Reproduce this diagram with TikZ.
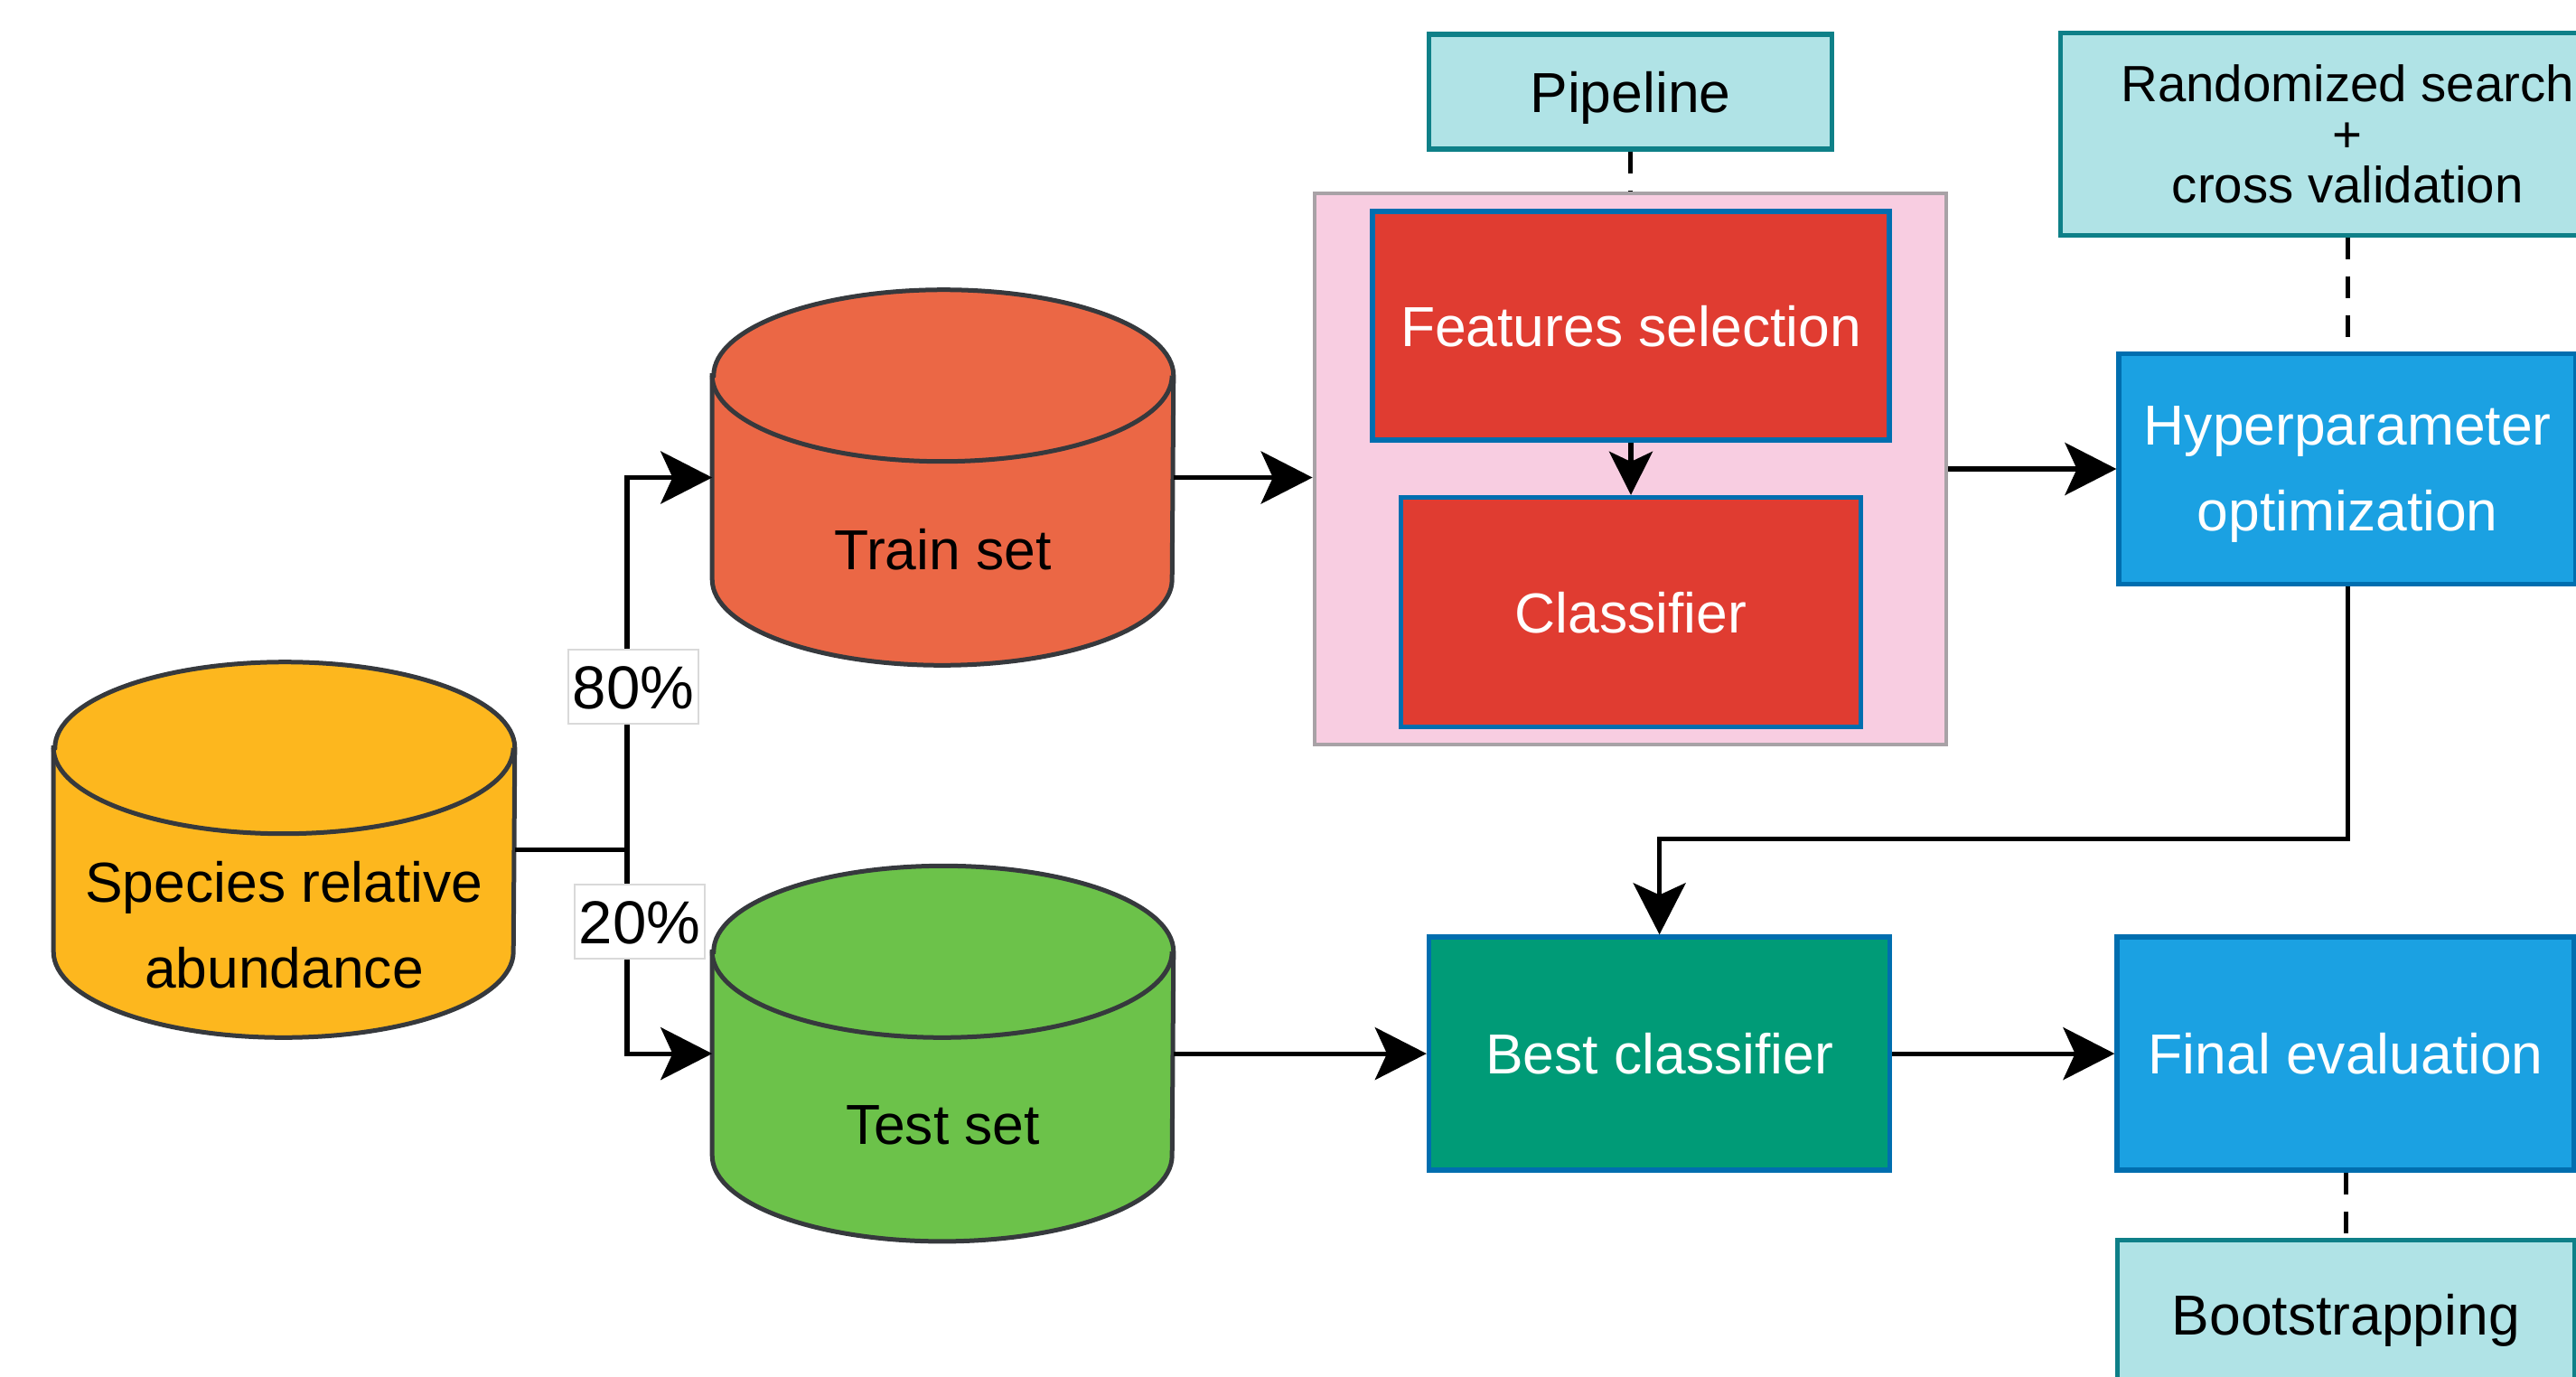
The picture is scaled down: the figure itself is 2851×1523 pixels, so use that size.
\documentclass[tikz,border=0pt]{standalone}
\usepackage{fontspec}
\setmainfont{Liberation Sans}
\usetikzlibrary{arrows.meta, positioning, backgrounds}
\definecolor{speciesyellow}{RGB}{253,183,30}
\definecolor{trainorange}{RGB}{235,103,69}
\definecolor{testgreen}{RGB}{108,194,74}
\definecolor{drumedge}{RGB}{54,57,61}
\definecolor{pipefill}{RGB}{248,205,225}
\definecolor{pipeedge}{RGB}{168,162,166}
\definecolor{boxred}{RGB}{224,60,49}
\definecolor{boxblue}{RGB}{27,161,226}
\definecolor{boxgreen}{RGB}{0,155,119}
\definecolor{edgeblue}{RGB}{0,110,175}
\definecolor{notefill}{RGB}{176,227,230}
\definecolor{noteedge}{RGB}{14,128,136}

\begin{document}
\begin{tikzpicture}[
  x=0.25pt, y=-0.25pt,
  font=\fontsize{15.6}{23.75}\selectfont,
  oneline/.style={text height=11.25pt, text depth=0pt},
  drum/.style={rectangle, minimum width=127.25pt, minimum height=103.5pt, inner sep=0pt},
  drumtxt/.style={inner sep=0pt, align=center},
  box/.style={rectangle, draw=edgeblue, line width=1.4pt, inner sep=2pt, text=white},
  note/.style={rectangle, draw=noteedge, fill=notefill, line width=1.3pt,
               minimum width=111.5pt, minimum height=31.75pt},
  pct/.style={fill=white, draw=black!15, line width=0.4pt, inner sep=1.2pt,
              text height=12.1pt, text depth=0pt, minimum height=20.5pt,
              font=\fontsize{16.8}{16.8}\selectfont},
  arrow/.style={-{Stealth[length=14.25pt, width=14.5pt, inset=3.3pt]}, line width=1.3pt},
  link/.style={line width=1.3pt, dash pattern=on 6pt off 4.75pt}
]
  \useasboundingbox (0,0) rectangle (2851,1523);
  \clip (0,0) rectangle (2851,1523);

  % data sets
  \node[drum] (species) at (314.5,940.5) {};
  \node[drum] (train) at (1043.5,528.5) {};
  \node[drum, below=55.5pt of train] (test) {};

  \node[drumtxt, text depth=0pt] (species-txt) at ([yshift=-20.8pt]species.center) {Species relative\\abundance};
  \node[drumtxt, oneline] (train-txt) at ([yshift=-19.75pt]train.center) {Train set};
  \node[drumtxt, oneline] (test-txt) at ([yshift=-19.5pt]test.center) {Test set};

  % pipeline
  \node[rectangle, draw=pipeedge, fill=pipefill, line width=1.2pt,
        minimum width=174.75pt, minimum height=152.5pt] (pipe) at (1804.5,519) {};
  \node[box, oneline, fill=boxred, minimum width=143pt, minimum height=63.25pt] (fs) at (1805,360.5) {Features selection};
  \node[box, oneline, fill=boxred, minimum width=127.25pt, minimum height=63.5pt, below=14.5pt of fs] (cl) {Classifier};
  \node[note, oneline, above=11pt of pipe] (pipe-note) {Pipeline};

  % hyperparameter search
  \node[box, fill=boxblue, align=center, text depth=-4.5pt, minimum width=126.5pt, minimum height=63.75pt,
        right=46.5pt of pipe] (hyper) {Hyperparameter\\optimization};
  \node[note, align=center, text depth=-4.5pt, minimum width=159pt, minimum height=56pt,
        font=\fontsize{14.1}{14.1}\selectfont, above=31.5pt of hyper] (search) {Randomized search\\+\\cross validation};

  % evaluation
  \node[box, oneline, fill=boxgreen, minimum width=127.5pt, minimum height=64.5pt, right=70pt of test] (best) {Best classifier};
  \node[box, oneline, fill=boxblue, minimum width=126.5pt, minimum height=64.5pt, right=61.5pt of best] (final) {Final evaluation};
  \node[note, oneline, minimum width=126.5pt, minimum height=41pt, below=18pt of final] (boot) {Bootstrapping};

  % split
  \coordinate (split) at (694,940.5);
  \draw[line width=1.3pt] (species.east) -- (split);
  \draw[arrow] (split) |- (train.west);
  \draw[arrow] (split) |- (test.west);
  \node[pct] (p80) at (701,760) {80\%};
  \node[pct] (p20) at (708,1020) {20\%};

  \draw[arrow] (train.east) -- (train.east -| pipe.west);
  \draw[arrow, -{Stealth[length=12pt, width=12pt, inset=2.8pt]}] (fs) -- (cl);
  \draw[arrow] (pipe) -- (hyper);
  \draw[arrow] (hyper.south) -- ++(0,279) -| (best.north);
  \draw[arrow] (test) -- (best);
  \draw[arrow] (best) -- (final);

  \draw[link] (pipe-note) -- (pipe);
  \draw[link] (search) -- (hyper);
  \draw[link] (final) -- (boot);

  % cylinder bodies
  \begin{scope}[on background layer]
    \foreach \db/\col in {species/speciesyellow, train/trainorange, test/testgreen} {
      \draw[drumedge, line width=1.25pt, fill=\col]
        ([yshift=-23.75pt]\db.north west) -- ([yshift=23.75pt]\db.south west)
        arc[start angle=180, end angle=360, x radius=63.625pt, y radius=23.75pt]
        -- ([yshift=-23.75pt]\db.north east)
        arc[start angle=0, end angle=180, x radius=63.625pt, y radius=23.75pt] -- cycle;
      \draw[drumedge, line width=1.25pt]
        ([yshift=-23.75pt]\db.north west)
        arc[start angle=180, end angle=360, x radius=63.625pt, y radius=23.75pt];
    }
  \end{scope}
\end{tikzpicture}
\end{document}
